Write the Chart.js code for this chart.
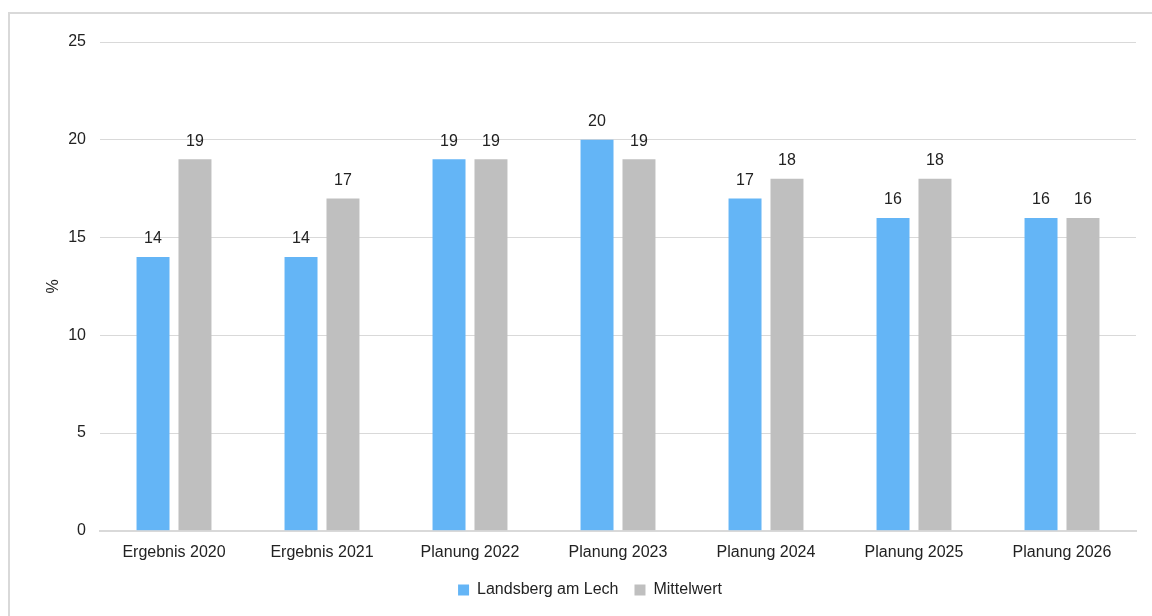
<!DOCTYPE html>
<html>
<head>
<meta charset="utf-8">
<script src="https://cdn.jsdelivr.net/npm/chart.js@4.4.1/dist/chart.umd.min.js"></script>
<style>
  html, body { margin: 0; padding: 0; background: #fff; overflow: hidden; }
  #frame { position: absolute; left: 8px; top: 12px; width: 1200px; height: 700px; border: 2px solid #d9d9d9; box-sizing: border-box; }
  #wrap { position: absolute; left: 0; top: 0; width: 1152px; height: 616px; }
</style>
</head>
<body>
<div id="frame"></div>
<div id="wrap"><canvas id="chart"></canvas></div>
<script>
// Chart data
const categories = ['Ergebnis 2020', 'Ergebnis 2021', 'Planung 2022', 'Planung 2023', 'Planung 2024', 'Planung 2025', 'Planung 2026'];
const landsberg  = [14, 14, 19, 20, 17, 16, 16];
const mittelwert = [19, 17, 19, 19, 18, 18, 16];

const FONT = { family: 'Liberation Sans, Arial, sans-serif', size: 16 };

// draws the value above each bar
const valueLabels = {
  id: 'valueLabels',
  afterDatasetsDraw(chart) {
    const ctx = chart.ctx;
    ctx.save();
    ctx.font = `${FONT.size}px ${FONT.family}`;
    ctx.fillStyle = '#222';
    ctx.textAlign = 'center';
    ctx.textBaseline = 'bottom';
    chart.data.datasets.forEach((ds, i) => {
      chart.getDatasetMeta(i).data.forEach((bar, j) => {
        ctx.fillText(ds.data[j], bar.x, bar.y - 10);
      });
    });
    ctx.restore();
  }
};

new Chart(document.getElementById('chart'), {
  type: 'bar',
  data: {
    labels: categories,
    datasets: [
      { label: 'Landsberg am Lech', data: landsberg,  backgroundColor: '#64b5f6', categoryPercentage: 0.567, barPercentage: 0.786 },
      { label: 'Mittelwert',        data: mittelwert, backgroundColor: '#bfbfbf', categoryPercentage: 0.567, barPercentage: 0.786 },
    ],
  },
  options: {
    responsive: true,
    maintainAspectRatio: false,
    animation: false,
    layout: { padding: { left: 44, right: 16, top: 42, bottom: 8 } },
    plugins: {
      legend: {
        position: 'bottom',
        labels: { color: '#222', font: FONT, boxWidth: 11, boxHeight: 11, padding: 16 },
      },
      tooltip: { enabled: false },
    },
    scales: {
      x: {
        grid: { display: false },
        border: { color: '#d9d9d9', width: 2 },
        ticks: { color: '#222', font: FONT, padding: 4 },
      },
      y: {
        min: 0, max: 25,
        afterFit: s => { s.width = 56; },
        grid: { color: '#d9d9d9', drawTicks: false },
        border: { display: false },
        ticks: { stepSize: 5, color: '#222', font: FONT, padding: 14 },
        title: { display: true, text: '%', color: '#222', font: FONT, padding: 0 },
      },
    },
  },
  plugins: [valueLabels],
});
</script>
</body>
</html>
